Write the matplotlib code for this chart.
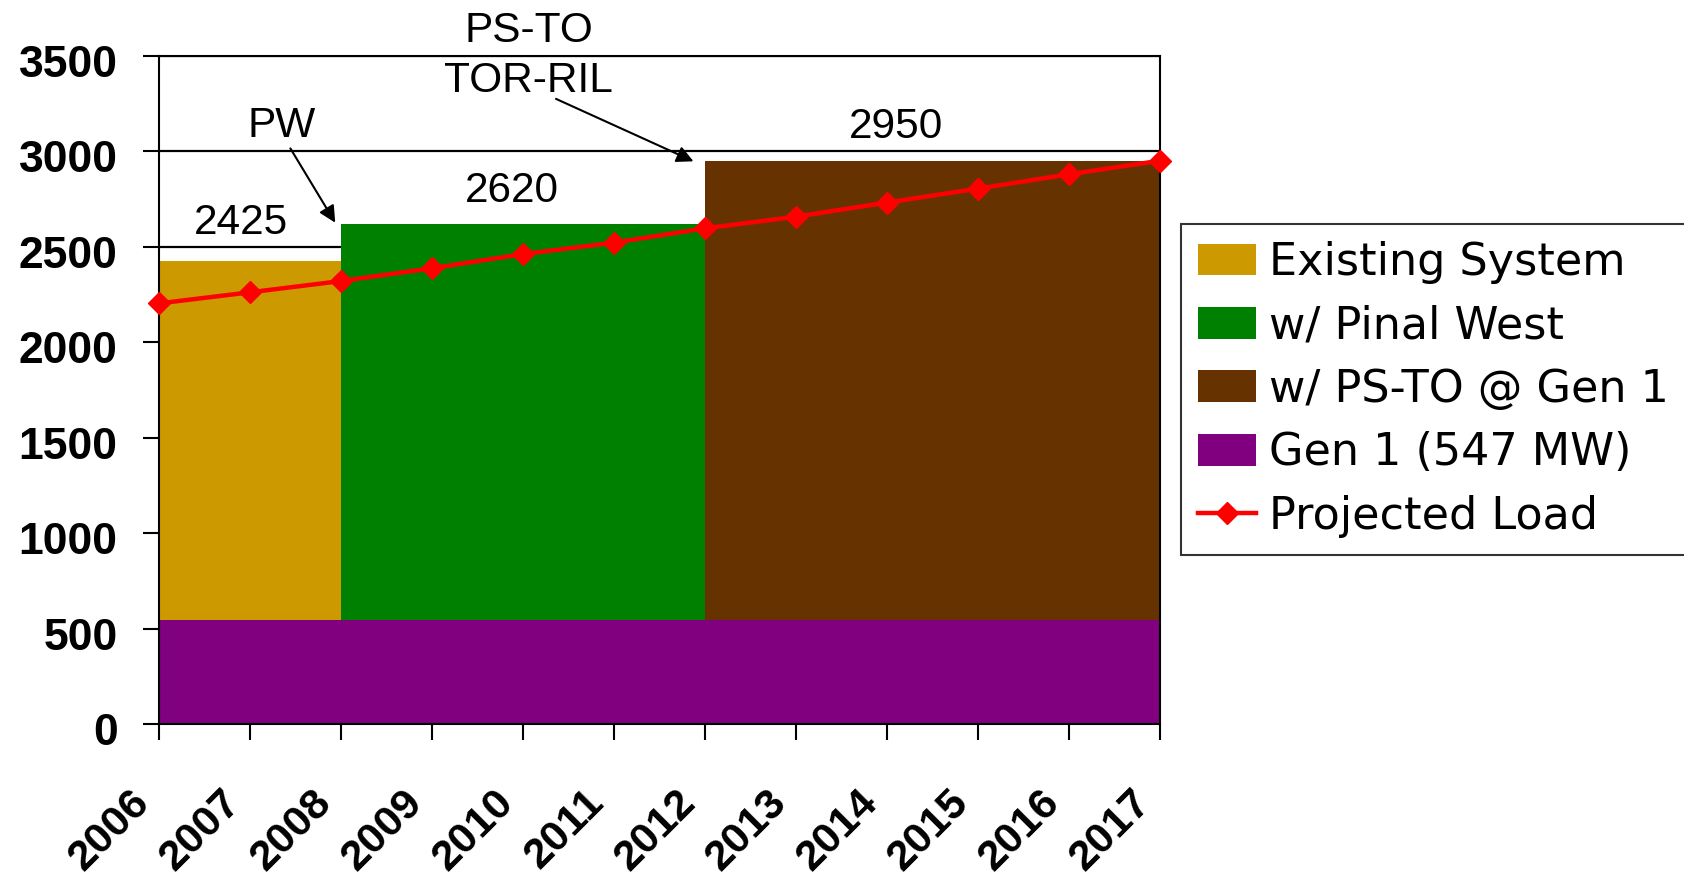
import matplotlib.pyplot as plt
from matplotlib.lines import Line2D
from matplotlib.patches import Patch
from matplotlib.transforms import ScaledTranslation

years = list(range(2006, 2018))
load = [2203, 2261, 2320, 2387, 2461, 2521, 2596, 2657, 2731, 2804, 2879, 2950]

gen1 = 547
# capacity steps, total MW over the years they cover
existing_years = [2006, 2007, 2008]
existing_total = [2425, 2425, 2425]
pinal_years = [2008, 2009, 2010, 2011, 2012]
pinal_total = [2620, 2620, 2620, 2620, 2620]
psto_years = [2012, 2013, 2014, 2015, 2016, 2017]
psto_total = [2950, 2950, 2950, 2950, 2950, 2950]

c_exist = '#CC9900'
c_pinal = '#008000'
c_psto = '#663300'
c_gen1 = '#800080'
c_load = '#FF0000'

fig = plt.figure(figsize=(16.84, 8.82), dpi=100)
ax = fig.add_axes([0.0946, 0.17914, 0.5942, 0.7577])

# gridlines behind everything
for g in range(500, 3501, 500):
    ax.axhline(g, color='black', lw=1.6, zorder=0)

ax.fill_between(existing_years, gen1, existing_total, color=c_exist, lw=0, zorder=1)
ax.fill_between(pinal_years, gen1, pinal_total, color=c_pinal, lw=0, zorder=1)
ax.fill_between(psto_years, gen1, psto_total, color=c_psto, lw=0, zorder=1)
ax.fill_between(years, 0, [gen1] * len(years), color=c_gen1, lw=0, zorder=1)

ax.plot(years, load, color=c_load, lw=3.2, marker='D', markersize=11,
        zorder=3, clip_on=False)

ax.set_xlim(2006, 2017)
ax.set_ylim(0, 3500)
ax.set_xticks(years)
ax.set_xticklabels([str(y) for y in years], rotation=45, ha='right',
                   va='center', rotation_mode='anchor',
                   fontsize=31, fontweight='bold', family='Liberation Sans')
ax.set_yticks(range(0, 3501, 500))
ax.set_yticklabels([str(v) for v in range(0, 3501, 500)],
                   fontsize=32, fontweight='bold', family='Liberation Sans')
ax.tick_params(axis='y', length=11.5, width=1.5, pad=18.5)
ax.tick_params(axis='x', length=11.5, width=1.5, pad=42)
for s in ax.spines.values():
    s.set_linewidth(1.5)
    s.set_zorder(2.5)

# nudge tick labels to where they sit in the original
for lab in ax.get_xticklabels():
    lab.set_transform(lab.get_transform() + ScaledTranslation(-0.16, 0.02, fig.dpi_scale_trans))
for lab in ax.get_yticklabels():
    lab.set_transform(lab.get_transform() + ScaledTranslation(0, -0.05, fig.dpi_scale_trans))

txt = dict(fontsize=30.5, family='Liberation Sans', ha='center', va='center',
           annotation_clip=False)
ax.annotate('PS-TO', xy=(2010.06, 3630), **txt)
ax.annotate('TOR-RIL', xy=(2010.06, 3366), **txt)
ax.annotate('PW', xy=(2007.34, 3133), **txt)
ax.annotate('2425', xy=(2006.9, 2625), **txt)
ax.annotate('2620', xy=(2009.88, 2790), **txt)
ax.annotate('2950', xy=(2014.1, 3128), **txt)

arrow = dict(arrowstyle='-|>', color='black', lw=1.5, mutation_scale=25)
ax.annotate('', xy=(2007.95, 2613), xytext=(2007.425, 3027),
            arrowprops=arrow, annotation_clip=False)
ax.annotate('', xy=(2011.9, 2941), xytext=(2010.333, 3280),
            arrowprops=arrow, annotation_clip=False)

handles = [
    Patch(facecolor=c_exist, label='Existing System'),
    Patch(facecolor=c_pinal, label='w/ Pinal West'),
    Patch(facecolor=c_psto, label='w/ PS-TO @ Gen 1'),
    Patch(facecolor=c_gen1, label='Gen 1 (547 MW)'),
    Line2D([], [], color=c_load, lw=3.2, marker='D', markersize=11,
           label='Projected Load'),
]
leg = fig.legend(handles=handles, loc='upper left',
                 bbox_to_anchor=(0.7013, 0.746), bbox_transform=fig.transFigure,
                 prop={'family': 'DejaVu Sans', 'size': 32},
                 frameon=True, fancybox=False, edgecolor='black',
                 borderaxespad=0, borderpad=0.38, handlelength=1.31,
                 handleheight=0.72, handletextpad=0.3, labelspacing=0.46)
leg.get_frame().set_linewidth(1.5)

fig.savefig('out.png', dpi=100)
